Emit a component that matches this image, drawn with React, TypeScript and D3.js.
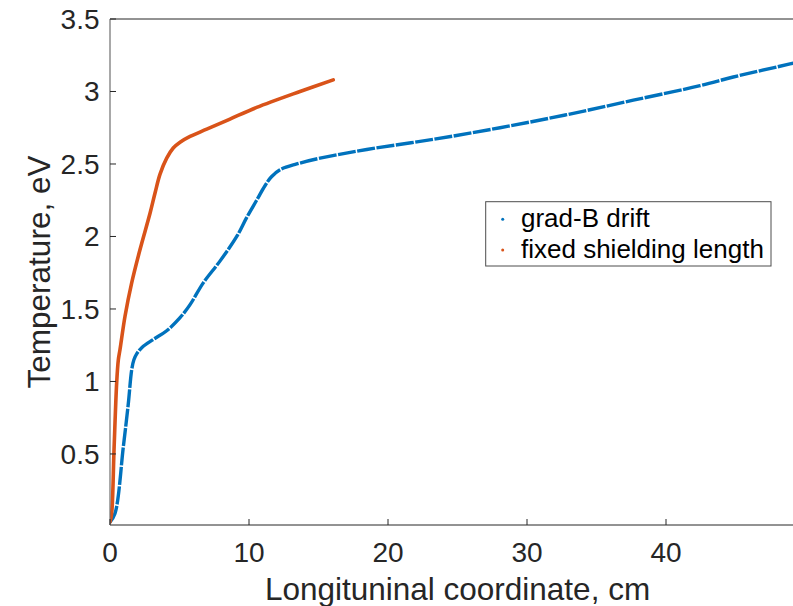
import React from "react";
import * as d3 from "d3";

const gradBX = [0, 0.36, 0.96, 1.32, 1.56, 1.72, 1.92, 2.3, 3.12, 4.08, 5.04, 5.76, 6.71, 7.91, 9.12, 9.83, 10.55, 11.15, 11.6, 12.23, 13.43, 15.11, 18.47, 23.26, 28.06, 32.86, 37.65, 42.45, 44.84, 48.92, 50];
const gradBY = [0.03, 0.09, 0.55, 0.85, 1.08, 1.15, 1.19, 1.235, 1.29, 1.35, 1.44, 1.53, 1.68, 1.83, 2.0, 2.13, 2.25, 2.35, 2.41, 2.46, 2.5, 2.54, 2.6, 2.67, 2.75, 2.84, 2.94, 3.04, 3.1, 3.19, 3.215];

const fixedX = [0, 0.12, 0.29, 0.48, 0.6, 0.72, 1.08, 1.56, 2.16, 2.88, 3.24, 3.6, 4.08, 4.55, 5.04, 5.76, 6.96, 8.63, 10.55, 13.67, 16.06];
const fixedY = [0.03, 0.09, 0.53, 0.99, 1.15, 1.22, 1.45, 1.68, 1.91, 2.16, 2.3, 2.43, 2.54, 2.61, 2.65, 2.69, 2.74, 2.81, 2.89, 3.0, 3.08];

const xTicks = [0, 10, 20, 30, 40];
const yTicks = [0.5, 1, 1.5, 2, 2.5, 3, 3.5];
const seriesNames = ["grad-B drift", "fixed shielding length"];
const seriesColors = ["#0072BD", "#D95319"];

export default function App() {
  const W = 793, H = 606;
  const left = 110, right = 805, top = 19, bottom = 525;
  const x = d3.scaleLinear().domain([0, 50]).range([left, right]);
  const y = d3.scaleLinear().domain([0.01, 3.5]).range([bottom, top]);
  const line = d3.line<[number, number]>().x(d => x(d[0])).y(d => y(d[1])).curve(d3.curveCatmullRom.alpha(0.5));
  const blue = line(gradBX.map((v, i) => [v, gradBY[i]] as [number, number])) || "";
  const orange = line(fixedX.map((v, i) => [v, fixedY[i]] as [number, number])) || "";
  const axisColor = "#262626";
  const font = "'Liberation Sans', Arial, Helvetica, sans-serif";
  return (
    <svg width={W} height={H} style={{ position: "absolute", left: 0, top: 0, background: "#fff" }} fontFamily={font}>
      <defs>
        <clipPath id="plotclip">
          <rect x={left} y={top - 2} width={right - left} height={bottom - top + 4} />
        </clipPath>
      </defs>
      <rect x={0} y={0} width={W} height={H} fill="#fff" />
      <g clipPath="url(#plotclip)">
        <path d={blue} fill="none" stroke={seriesColors[0]} strokeWidth={3.4} strokeDasharray="18 1.5" strokeLinecap="butt" />
        <path d={orange} fill="none" stroke={seriesColors[1]} strokeWidth={3.6} strokeLinecap="round" />
      </g>
      {/* frame */}
      <line x1={left} x2={right} y1={top} y2={top} stroke={axisColor} strokeWidth={1} />
      <line x1={left} x2={right} y1={bottom} y2={bottom} stroke={axisColor} strokeWidth={1} />
      <line x1={left} x2={left} y1={top} y2={bottom} stroke="#6e6e6e" strokeWidth={1.2} />
      {xTicks.map(t => (
        <g key={"x" + t}>
          <line x1={x(t)} x2={x(t)} y1={bottom} y2={bottom - 6} stroke={axisColor} strokeWidth={1} />
          <text x={x(t)} y={561.5} textAnchor="middle" fontSize={28} fill={axisColor}>{t}</text>
        </g>
      ))}
      {yTicks.map(t => (
        <g key={"y" + t}>
          <line x1={left} x2={left + 6} y1={y(t)} y2={y(t)} stroke={axisColor} strokeWidth={1} />
          <text x={99.5} y={y(t) + 10} textAnchor="end" fontSize={28} fill={axisColor}>{t}</text>
        </g>
      ))}
      <text x={(left + right) / 2} y={600} textAnchor="middle" fontSize={31.5} fill={axisColor}>Longituninal coordinate, cm</text>
      <text transform={`translate(50,272) rotate(-90)`} textAnchor="middle" fontSize={31.5} fill={axisColor}>Temperature, eV</text>
      {/* legend */}
      <rect x={485.7} y={201.7} width={285.3} height={64.3} fill="#fff" stroke="#4d4d4d" strokeWidth={1} />
      {seriesNames.map((n, i) => (
        <g key={n}>
          <circle cx={502.7} cy={219.3 + i * 30.8} r={1.5} fill={seriesColors[i]} />
          <text x={521} y={227.3 + i * 31} fontSize={26} fill="#000">{n}</text>
        </g>
      ))}
    </svg>
  );
}
